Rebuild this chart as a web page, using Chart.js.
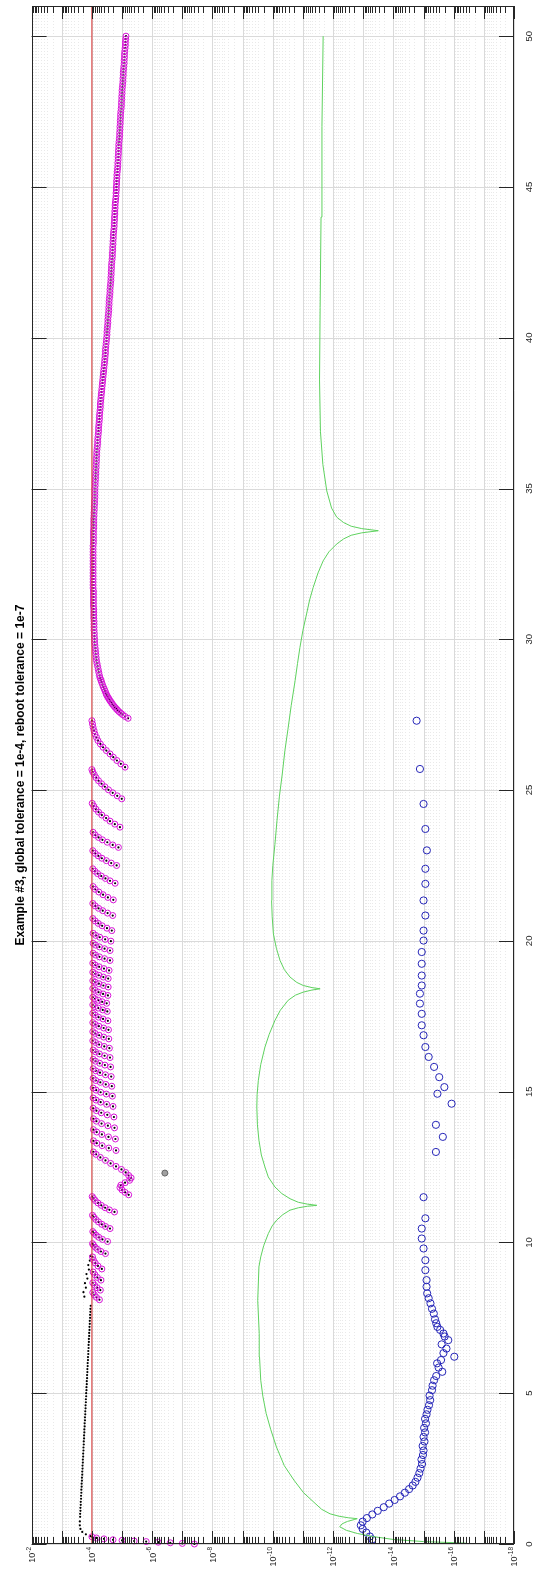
<!DOCTYPE html>
<html>
<head>
<meta charset="utf-8">
<script src="https://cdn.jsdelivr.net/npm/chart.js@4.4.1/dist/chart.umd.min.js"></script>
<style>
  html, body { margin: 0; padding: 0; background: #fff; }
</style>
</head>
<body>
<canvas id="chart" width="549" height="1572"></canvas>
<script>
// rotated matlab figure: t runs bottom->top, error (log) runs left->right (10^-2 .. 10^-18)
const titleText = 'Example #3, global tolerance = 1e-4, reboot tolerance = 1e-7';
const tTicks = [0, 5, 10, 15, 20, 25, 30, 35, 40, 45, 50];
const errDecades = [-18, -17, -16, -15, -14, -13, -12, -11, -10, -9, -8, -7, -6, -5, -4, -3, -2];
const errLabelDecades = [-2, -4, -6, -8, -10, -12, -14, -16, -18];

// all series are [t, log10(error)]
const tolLine = [[0, -4], [51, -4]];

const blackLead = [
  [0.26,-3.95],[0.32,-3.80],[0.40,-3.68],[0.50,-3.62],[0.62,-3.60],[0.75,-3.60],[0.90,-3.61],
  [1.0,-3.61],[1.1,-3.62],[1.2,-3.62],[1.3,-3.63],[1.4,-3.63],[1.5,-3.64],[1.6,-3.64],[1.7,-3.65],
  [1.8,-3.65],[1.9,-3.66],[2.0,-3.66],[2.1,-3.67],[2.2,-3.67],[2.3,-3.68],[2.4,-3.68],[2.5,-3.69],
  [2.6,-3.69],[2.7,-3.70],[2.8,-3.70],[2.9,-3.71],[3.0,-3.71],[3.1,-3.72],[3.2,-3.72],[3.3,-3.73],
  [3.4,-3.73],[3.5,-3.74],[3.6,-3.74],[3.7,-3.75],[3.8,-3.75],[3.9,-3.76],[4.0,-3.76],[4.1,-3.77],
  [4.2,-3.77],[4.3,-3.78],[4.4,-3.78],[4.5,-3.79],[4.6,-3.79],[4.7,-3.80],[4.8,-3.80],[4.9,-3.81],
  [5.0,-3.81],[5.1,-3.82],[5.2,-3.82],[5.3,-3.83],[5.4,-3.83],[5.5,-3.84],[5.6,-3.84],[5.7,-3.85],
  [5.8,-3.85],[5.9,-3.86],[6.0,-3.86],[6.1,-3.87],[6.2,-3.87],[6.3,-3.88],[6.4,-3.88],[6.5,-3.89],
  [6.6,-3.89],[6.7,-3.90],[6.8,-3.90],[6.9,-3.91],[7.0,-3.91],[7.1,-3.92],[7.2,-3.92],[7.3,-3.93],
  [7.4,-3.93],[7.5,-3.94],[7.6,-3.94],[7.7,-3.95],[7.8,-3.95],[7.9,-3.96],[8.2,-3.75],[8.35,-3.72],
  [8.5,-3.80],[8.65,-3.77],[8.8,-3.85],[8.95,-3.82],[9.1,-3.90],[9.25,-3.88],[9.4,-3.93],[9.55,-3.95]
];

const magStart = [
  [0.00,-7.4],[0.02,-7.0],[0.04,-6.6],[0.06,-6.2],[0.08,-5.8],[0.10,-5.4],[0.12,-5.0],
  [0.14,-4.7],[0.17,-4.4],[0.20,-4.15],[0.24,-4.0]
];

const magEarly = [
  [8.10,-4.25],[8.18,-4.15],[8.26,-4.08],[8.34,-4.03],
  [8.42,-4.28],[8.50,-4.17],[8.58,-4.09],[8.66,-4.03],
  [8.75,-4.30],[8.84,-4.18],[8.93,-4.10],[9.02,-4.04],
  [9.12,-4.33],[9.22,-4.20],[9.32,-4.11],[9.42,-4.05],[9.52,-4.02],
  [9.63,-4.45],[9.70,-4.30],[9.77,-4.19],[9.84,-4.11],[9.91,-4.05],[9.96,-4.02],
  [10.03,-4.52],[10.10,-4.35],[10.17,-4.23],[10.24,-4.14],[10.31,-4.07],[10.36,-4.03],
  [10.46,-4.60],[10.53,-4.45],[10.60,-4.33],[10.68,-4.22],[10.76,-4.13],[10.84,-4.06],[10.90,-4.02],
  [11.01,-4.75],[11.08,-4.58],[11.15,-4.44],[11.23,-4.31],[11.31,-4.20],[11.39,-4.11],[11.46,-4.05],[11.52,-4.01],
  [11.58,-5.22],[11.66,-5.10],[11.74,-5.00],[11.82,-4.93],[11.90,-4.96],[11.98,-5.10],[12.06,-5.25],
  [12.14,-5.30],[12.22,-5.22],[12.32,-5.12],[12.42,-4.98],[12.52,-4.80],[12.62,-4.62],[12.72,-4.45],
  [12.82,-4.28],[12.92,-4.14],[13.00,-4.05]
];

const magMid = [
  [13.05,-4.80],[13.13,-4.56],[13.21,-4.34],[13.29,-4.16],[13.37,-4.05],
  [13.43,-4.78],[13.50,-4.55],[13.58,-4.33],[13.66,-4.16],[13.74,-4.05],
  [13.80,-4.75],[13.87,-4.53],[13.94,-4.32],[14.02,-4.15],[14.10,-4.05],
  [14.16,-4.73],[14.23,-4.51],[14.30,-4.31],[14.37,-4.15],[14.45,-4.04],
  [14.51,-4.70],[14.58,-4.49],[14.65,-4.29],[14.72,-4.14],[14.79,-4.04],
  [14.85,-4.68],[14.92,-4.48],[14.98,-4.29],[15.05,-4.14],[15.12,-4.04],
  [15.18,-4.66],[15.24,-4.46],[15.31,-4.28],[15.37,-4.13],[15.44,-4.04],
  [15.50,-4.64],[15.56,-4.45],[15.63,-4.27],[15.69,-4.13],[15.76,-4.04],
  [15.82,-4.62],[15.88,-4.43],[15.94,-4.26],[16.01,-4.12],[16.07,-4.04],
  [16.13,-4.60],[16.19,-4.42],[16.25,-4.25],[16.32,-4.12],[16.38,-4.04],
  [16.44,-4.58],[16.50,-4.41],[16.56,-4.24],[16.63,-4.12],[16.69,-4.03],
  [16.75,-4.56],[16.81,-4.39],[16.87,-4.24],[16.93,-4.11],[16.99,-4.03],
  [17.05,-4.55],[17.11,-4.39],[17.17,-4.23],[17.23,-4.11],[17.29,-4.03],
  [17.35,-4.53],[17.41,-4.37],[17.47,-4.22],[17.54,-4.11],[17.60,-4.03],
  [17.66,-4.51],[17.71,-4.36],[17.77,-4.21],[17.82,-4.10],[17.88,-4.03]
];

const magLate = [
  [17.93,-4.49],[17.98,-4.34],[18.03,-4.21],[18.08,-4.10],[18.13,-4.03],
  [18.19,-4.53],[18.24,-4.37],[18.30,-4.22],[18.36,-4.11],[18.42,-4.03],
  [18.47,-4.54],[18.52,-4.38],[18.58,-4.23],[18.63,-4.11],[18.68,-4.03],
  [18.75,-4.54],[18.80,-4.38],[18.86,-4.23],[18.91,-4.11],[18.96,-4.03],
  [19.02,-4.57],[19.08,-4.40],[19.14,-4.24],[19.20,-4.11],[19.26,-4.03],
  [19.35,-4.60],[19.41,-4.42],[19.47,-4.25],[19.53,-4.12],[19.59,-4.04],
  [19.68,-4.60],[19.74,-4.42],[19.80,-4.25],[19.86,-4.12],[19.92,-4.04],
  [19.99,-4.63],[20.05,-4.44],[20.12,-4.26],[20.18,-4.13],[20.25,-4.04],
  [20.34,-4.66],[20.42,-4.50],[20.50,-4.34],[20.58,-4.21],[20.66,-4.11],[20.74,-4.03],
  [20.84,-4.69],[20.92,-4.52],[21.00,-4.36],[21.08,-4.22],[21.16,-4.11],[21.24,-4.03],
  [21.36,-4.71],[21.44,-4.53],[21.53,-4.37],[21.62,-4.23],[21.71,-4.11],[21.80,-4.04],
  [21.91,-4.77],[21.99,-4.60],[22.07,-4.45],[22.15,-4.31],[22.23,-4.19],[22.31,-4.10],[22.39,-4.03],
  [22.50,-4.82],[22.58,-4.64],[22.66,-4.48],[22.74,-4.33],[22.82,-4.21],[22.90,-4.11],[22.99,-4.03],
  [23.10,-4.88],[23.18,-4.69],[23.27,-4.51],[23.35,-4.35],[23.43,-4.22],[23.51,-4.11],[23.60,-4.04],
  [23.77,-4.93],[23.87,-4.76],[23.97,-4.60],[24.07,-4.47],[24.17,-4.33],[24.27,-4.22],[24.37,-4.13],[24.47,-4.06],[24.56,-4.01],
  [24.71,-4.99],[24.81,-4.84],[24.91,-4.69],[25.01,-4.55],[25.11,-4.43],[25.21,-4.32],[25.31,-4.22],[25.41,-4.14],[25.51,-4.08],[25.60,-4.03],[25.68,-4.00],
  [25.76,-5.10],[25.87,-4.96],[25.98,-4.83],[26.09,-4.71],[26.20,-4.60],[26.31,-4.48],[26.42,-4.37],[26.53,-4.28],
  [26.64,-4.20],[26.75,-4.15],[26.86,-4.10],[26.97,-4.07],[27.08,-4.04],[27.19,-4.02],[27.30,-4.00]
];

const magTail = [
  [27.38,-5.20],[27.44,-5.10],[27.5,-5.02],[27.55,-4.96],[27.6,-4.90],[27.65,-4.85],[27.7,-4.81],[27.75,-4.76],
  [27.8,-4.72],[27.85,-4.68],[27.9,-4.65],[27.95,-4.61],[28.0,-4.58],[28.05,-4.55],[28.1,-4.52],[28.15,-4.49],
  [28.2,-4.47],[28.28,-4.44],[28.35,-4.41],[28.42,-4.38],[28.5,-4.35],[28.58,-4.32],[28.65,-4.30],[28.72,-4.27],
  [28.8,-4.25],[28.9,-4.23],[29.0,-4.21],[29.1,-4.19],[29.2,-4.17],[29.3,-4.15],[29.4,-4.14],[29.5,-4.13],
  [29.6,-4.12],[29.7,-4.11],[29.8,-4.10],[29.9,-4.09],[30.0,-4.09],[30.1,-4.08],[30.2,-4.08],[30.3,-4.07],
  [30.4,-4.07],[30.5,-4.07],[30.6,-4.07],[30.7,-4.06],[30.8,-4.06],[30.9,-4.06],[31.0,-4.06],[31.1,-4.05],
  [31.2,-4.05],[31.3,-4.05],[31.4,-4.05],[31.5,-4.05],[31.6,-4.05],[31.7,-4.04],[31.8,-4.04],[31.9,-4.04],
  [32.0,-4.04],[32.1,-4.04],[32.2,-4.04],[32.3,-4.04],[32.4,-4.04],[32.5,-4.04],[32.6,-4.04],[32.7,-4.04],
  [32.8,-4.04],[32.9,-4.04],[33.0,-4.04],[33.1,-4.04],[33.2,-4.05],[33.3,-4.05],[33.4,-4.05],[33.5,-4.05],
  [33.6,-4.05],[33.7,-4.06],[33.8,-4.06],[33.9,-4.06],[34.0,-4.06],[34.1,-4.07],[34.2,-4.07],[34.3,-4.08],
  [34.4,-4.08],[34.5,-4.09],[34.6,-4.09],[34.7,-4.10],[34.8,-4.10],[34.9,-4.10],[35.0,-4.10],[35.1,-4.11],
  [35.2,-4.11],[35.3,-4.12],[35.4,-4.12],[35.5,-4.13],[35.6,-4.13],[35.7,-4.14],[35.8,-4.14],[35.9,-4.15],
  [36.0,-4.15],[36.1,-4.16],[36.2,-4.16],[36.3,-4.17],[36.4,-4.18],[36.5,-4.19],[36.6,-4.19],[36.7,-4.20],
  [36.8,-4.21],[36.9,-4.22],[37.0,-4.22],[37.1,-4.23],[37.2,-4.24],[37.3,-4.25],[37.4,-4.25],[37.5,-4.26],
  [37.6,-4.27],[37.7,-4.28],[37.8,-4.28],[37.9,-4.29],[38.0,-4.30],[38.1,-4.31],[38.2,-4.32],[38.3,-4.33],
  [38.4,-4.34],[38.5,-4.35],[38.6,-4.36],[38.7,-4.37],[38.8,-4.38],[38.9,-4.39],[39.0,-4.40],[39.1,-4.41],
  [39.2,-4.42],[39.3,-4.43],[39.4,-4.44],[39.5,-4.45],[39.6,-4.45],[39.7,-4.46],[39.8,-4.47],[39.9,-4.48],
  [40.0,-4.49],[40.1,-4.50],[40.2,-4.50],[40.3,-4.51],[40.4,-4.52],[40.5,-4.53],[40.6,-4.53],[40.7,-4.54],
  [40.8,-4.55],[40.9,-4.56],[41.0,-4.56],[41.1,-4.57],[41.2,-4.57],[41.3,-4.58],[41.4,-4.59],[41.5,-4.60],
  [41.6,-4.60],[41.7,-4.61],[41.8,-4.62],[41.9,-4.63],[42.0,-4.63],[42.1,-4.64],[42.2,-4.64],[42.3,-4.65],
  [42.4,-4.65],[42.5,-4.66],[42.6,-4.67],[42.7,-4.68],[42.8,-4.68],[42.9,-4.69],[43.0,-4.69],[43.1,-4.70],
  [43.2,-4.70],[43.3,-4.71],[43.4,-4.71],[43.5,-4.72],[43.6,-4.73],[43.7,-4.74],[43.8,-4.74],[43.9,-4.75],
  [44.0,-4.75],[44.1,-4.76],[44.2,-4.76],[44.3,-4.77],[44.4,-4.77],[44.5,-4.78],[44.6,-4.79],[44.7,-4.80],
  [44.8,-4.80],[44.9,-4.81],[45.0,-4.81],[45.1,-4.82],[45.2,-4.82],[45.3,-4.83],[45.4,-4.83],[45.5,-4.84],
  [45.6,-4.85],[45.7,-4.86],[45.8,-4.86],[45.9,-4.87],[46.0,-4.87],[46.1,-4.88],[46.2,-4.88],[46.3,-4.89],
  [46.4,-4.89],[46.5,-4.90],[46.6,-4.91],[46.7,-4.92],[46.8,-4.92],[46.9,-4.93],[47.0,-4.93],[47.1,-4.94],
  [47.2,-4.94],[47.3,-4.95],[47.4,-4.95],[47.5,-4.96],[47.6,-4.97],[47.7,-4.98],[47.8,-4.98],[47.9,-4.99],
  [48.0,-4.99],[48.1,-5.00],[48.2,-5.00],[48.3,-5.01],[48.4,-5.02],[48.5,-5.03],[48.6,-5.03],[48.7,-5.04],
  [48.8,-5.04],[48.9,-5.05],[49.0,-5.06],[49.1,-5.07],[49.2,-5.07],[49.3,-5.08],[49.4,-5.08],[49.5,-5.09],
  [49.6,-5.10],[49.7,-5.11],[49.8,-5.11],[49.9,-5.12],[50.0,-5.13]
];

const blueErr = [
  [0.15,-13.3],[0.25,-13.22],[0.38,-13.1],[0.5,-12.98],[0.62,-12.92],[0.74,-12.98],[0.86,-13.12],[0.98,-13.3],
  [1.1,-13.48],[1.22,-13.68],[1.34,-13.86],[1.46,-14.04],[1.58,-14.22],[1.7,-14.38],[1.82,-14.52],[1.94,-14.64],
  [2.06,-14.73],[2.2,-14.8],[2.35,-14.86],[2.5,-14.9],[2.65,-14.95],[2.8,-14.93],[2.95,-14.98],[3.1,-15.0],
  [3.25,-14.97],[3.4,-15.03],[3.55,-15.0],[3.7,-15.05],[3.85,-15.02],[4.0,-15.08],[4.15,-15.05],[4.3,-15.1],
  [4.45,-15.13],[4.6,-15.18],[4.77,-15.22],[4.92,-15.2],[5.1,-15.28],[5.25,-15.3],[5.43,-15.35],[5.57,-15.42],
  [5.71,-15.62],[5.85,-15.5],[5.99,-15.45],[6.1,-15.58],[6.21,-16.02],[6.33,-15.66],[6.48,-15.76],[6.62,-15.6],
  [6.76,-15.82],[6.88,-15.7],[6.98,-15.66],[7.1,-15.55],[7.2,-15.46],[7.32,-15.42],[7.45,-15.38],[7.64,-15.34],
  [7.8,-15.28],[7.98,-15.23],[8.15,-15.17],[8.31,-15.12],[8.53,-15.1],[8.75,-15.1],[9.08,-15.06],[9.41,-15.06],
  [9.8,-15.0],[10.13,-14.94],[10.46,-14.94],[10.8,-15.06],[11.5,-15.0],[13.0,-15.41],[13.5,-15.64],[13.9,-15.41],
  [14.6,-15.93],[14.93,-15.46],[15.15,-15.69],[15.48,-15.52],[15.82,-15.35],[16.15,-15.17],[16.48,-15.06],[16.87,-15.0],
  [17.2,-14.94],[17.58,-14.94],[17.92,-14.88],[18.25,-14.88],[18.52,-14.94],[18.85,-14.94],[19.24,-14.94],[19.63,-14.94],
  [20.01,-15.0],[20.34,-15.0],[20.84,-15.06],[21.34,-15.0],[21.89,-15.06],[22.39,-15.06],[23.0,-15.11],[23.71,-15.06],
  [24.54,-15.0],[25.7,-14.88],[27.3,-14.77]
];

const greenErr = [
  [0.03,-16.4],[0.08,-15.0],[0.15,-14.0],[0.25,-13.3],[0.35,-12.8],[0.45,-12.45],[0.57,-12.22],[0.67,-12.3],
  [0.75,-12.48],[0.81,-12.7],[0.84,-12.8],[0.87,-12.5],[0.92,-12.2],[1.0,-11.9],[1.15,-11.62],[1.35,-11.4],
  [1.7,-11.02],[2.12,-10.7],[2.6,-10.38],[3.22,-10.12],[3.8,-9.93],[4.33,-9.78],[4.9,-9.67],[5.43,-9.6],
  [6.2,-9.56],[6.98,-9.55],[8.08,-9.5],[9.19,-9.54],[9.52,-9.6],[9.9,-9.7],[10.29,-9.85],[10.55,-9.98],
  [10.74,-10.13],[10.92,-10.33],[11.07,-10.57],[11.15,-10.85],[11.2,-11.15],[11.23,-11.46],[11.27,-11.15],[11.33,-10.85],
  [11.45,-10.57],[11.62,-10.3],[11.84,-10.07],[12.17,-9.85],[12.5,-9.74],[12.9,-9.62],[13.39,-9.54],[13.9,-9.49],
  [14.49,-9.47],[14.9,-9.48],[15.37,-9.52],[15.9,-9.6],[16.48,-9.74],[16.9,-9.88],[17.36,-10.07],[17.7,-10.25],
  [18.03,-10.51],[18.2,-10.75],[18.3,-11.01],[18.37,-11.3],[18.41,-11.57],[18.45,-11.3],[18.52,-11.01],[18.62,-10.8],
  [18.8,-10.57],[19.05,-10.38],[19.35,-10.24],[19.75,-10.12],[20.23,-10.02],[20.8,-9.98],[21.34,-9.96],[22.0,-9.97],
  [22.5,-10.0],[23.2,-10.07],[24.0,-10.14],[24.8,-10.22],[25.5,-10.31],[26.3,-10.4],[27.0,-10.5],[27.8,-10.61],
  [28.63,-10.74],[29.2,-10.82],[29.73,-10.9],[30.3,-11.0],[30.84,-11.12],[31.3,-11.22],[31.72,-11.34],[32.2,-11.5],
  [32.6,-11.67],[32.9,-11.86],[33.16,-12.12],[33.33,-12.35],[33.45,-12.6],[33.53,-12.95],[33.6,-13.5],[33.67,-12.95],
  [33.75,-12.6],[33.87,-12.35],[34.05,-12.12],[34.35,-11.95],[34.92,-11.79],[35.8,-11.66],[36.9,-11.58],[38.6,-11.55],
  [41.0,-11.57],[44.0,-11.6],[47.0,-11.63],[50.0,-11.67]
];

const rebootMark = [[12.3, -6.42]];

const FONT = '"Liberation Sans", Arial, Helvetica, sans-serif';
const AXIS_COLOR = '#262626';

function toPoints(arr) {
  return arr.map(p => ({ x: Math.pow(10, p[1]), y: p[0] }));
}

const magAll = magStart.concat(magEarly, magMid, magLate, magTail);
const blackAll = blackLead.concat(magAll);

// grid, frame, inner ticks and labels drawn in matlab style
const matlabAxes = {
  id: 'matlabAxes',
  beforeDatasetsDraw(chart) {
    const { ctx, chartArea: a, scales } = chart;
    const xs = scales.x, ys = scales.y;
    ctx.save();
    ctx.lineWidth = 1;
    errDecades.forEach(d => {
      for (let m = 1; m <= 9; m++) {
        if (d === -2 && m > 1) break;
        const px = Math.round(xs.getPixelForValue(m * Math.pow(10, d))) + 0.5;
        ctx.strokeStyle = m === 1 ? '#dadada' : '#e9e9e9';
        ctx.setLineDash(m === 1 ? [] : [1, 2]);
        ctx.beginPath();
        ctx.moveTo(px, a.top);
        ctx.lineTo(px, a.bottom);
        ctx.stroke();
      }
    });
    ctx.setLineDash([]);
    ctx.strokeStyle = '#dadada';
    tTicks.forEach(t => {
      const py = Math.round(ys.getPixelForValue(t)) + 0.5;
      ctx.beginPath();
      ctx.moveTo(a.left, py);
      ctx.lineTo(a.right, py);
      ctx.stroke();
    });
    ctx.restore();
  },
  afterDatasetsDraw(chart) {
    const { ctx, chartArea: a, scales } = chart;
    const xs = scales.x, ys = scales.y;
    ctx.save();
    ctx.strokeStyle = AXIS_COLOR;
    ctx.lineWidth = 1;
    ctx.strokeRect(Math.round(a.left) + 0.5, Math.round(a.top) + 0.5,
      Math.round(a.width) - 1, Math.round(a.height) - 1);

    // inner ticks on the log axis (top and bottom edges)
    errDecades.forEach(d => {
      for (let m = 1; m <= 9; m++) {
        if (d === -2 && m > 1) break;
        const px = Math.round(xs.getPixelForValue(m * Math.pow(10, d))) + 0.5;
        const len = m === 1 ? 13 : 7;
        ctx.beginPath();
        ctx.moveTo(px, a.bottom);
        ctx.lineTo(px, a.bottom - len);
        ctx.moveTo(px, a.top);
        ctx.lineTo(px, a.top + len);
        ctx.stroke();
      }
    });
    // inner ticks on the t axis (left and right edges)
    tTicks.forEach(t => {
      const py = Math.round(ys.getPixelForValue(t)) + 0.5;
      ctx.beginPath();
      ctx.moveTo(a.left, py);
      ctx.lineTo(a.left + 15, py);
      ctx.moveTo(a.right, py);
      ctx.lineTo(a.right - 15, py);
      ctx.stroke();
    });

    ctx.fillStyle = AXIS_COLOR;
    // t labels, rotated
    ctx.font = '9.5px ' + FONT;
    ctx.textAlign = 'center';
    ctx.textBaseline = 'middle';
    tTicks.forEach(t => {
      const py = ys.getPixelForValue(t);
      ctx.save();
      ctx.translate(a.right + 15, py);
      ctx.rotate(-Math.PI / 2);
      ctx.fillText(String(t), 0, 0);
      ctx.restore();
    });
    // 10^n labels, rotated, end aligned to the axis
    errLabelDecades.forEach(d => {
      const px = xs.getPixelForValue(Math.pow(10, d));
      ctx.save();
      ctx.translate(px, a.bottom + 3);
      ctx.rotate(-Math.PI / 2);
      ctx.textAlign = 'left';
      ctx.textBaseline = 'alphabetic';
      ctx.font = '9px ' + FONT;
      const wb = ctx.measureText('10').width;
      ctx.font = '6.5px ' + FONT;
      const sup = '-' + Math.abs(d);
      const ws = ctx.measureText(sup).width;
      ctx.fillText(sup, -ws, -0.8);
      ctx.font = '9px ' + FONT;
      ctx.fillText('10', -ws - wb, 3.3);
      ctx.restore();
    });
    ctx.restore();
  }
};

const ctx = document.getElementById('chart').getContext('2d');
const chart = new Chart(ctx, {
  type: 'scatter',
  data: {
    datasets: [
      {
        label: 'green',
        data: toPoints(greenErr),
        showLine: true,
        borderColor: '#5fd25f',
        borderWidth: 1,
        pointRadius: 0,
        tension: 0
      },
      {
        label: 'tolerance',
        data: toPoints(tolLine),
        showLine: true,
        borderColor: '#d83030',
        borderWidth: 1,
        pointRadius: 0
      },
      {
        label: 'blue',
        data: toPoints(blueErr),
        pointRadius: 3.6,
        pointBorderWidth: 1,
        borderColor: '#2626b8',
        backgroundColor: 'rgba(0,0,0,0)',
        clip: false
      },
      {
        label: 'magenta',
        data: toPoints(magAll),
        pointRadius: 3,
        pointBorderWidth: 1,
        borderColor: '#d814d8',
        backgroundColor: 'rgba(0,0,0,0)',
        clip: false
      },
      {
        label: 'black',
        data: toPoints(blackAll),
        pointRadius: 1.1,
        pointBorderWidth: 0,
        borderColor: '#000',
        backgroundColor: '#000',
        clip: false
      },
      {
        label: 'reboot',
        data: toPoints(rebootMark),
        pointRadius: 3,
        pointBorderWidth: 1,
        borderColor: '#666',
        backgroundColor: '#a0a0a0'
      }
    ]
  },
  options: {
    responsive: false,
    animation: false,
    events: [],
    devicePixelRatio: 1,
    layout: { padding: { top: 6, left: 0, right: 0, bottom: 0 } },
    plugins: {
      legend: { display: false },
      tooltip: { enabled: false },
      title: {
        display: true,
        text: titleText,
        position: 'left',
        fullSize: false,
        color: '#000',
        font: { family: FONT, size: 12, weight: 'bold' },
        padding: { top: 13.8, bottom: 3.4 }
      }
    },
    scales: {
      x: {
        type: 'logarithmic',
        position: 'bottom',
        min: 1e-18,
        max: 1e-2,
        reverse: true,
        grid: { display: false },
        border: { display: false },
        ticks: { display: false },
        afterFit: s => { s.height = 28; }
      },
      y: {
        type: 'linear',
        position: 'right',
        min: 0,
        max: 51,
        grid: { display: false },
        border: { display: false },
        ticks: { display: false },
        afterFit: s => { s.width = 35; }
      }
    }
  },
  plugins: [matlabAxes]
});
</script>
</body>
</html>
